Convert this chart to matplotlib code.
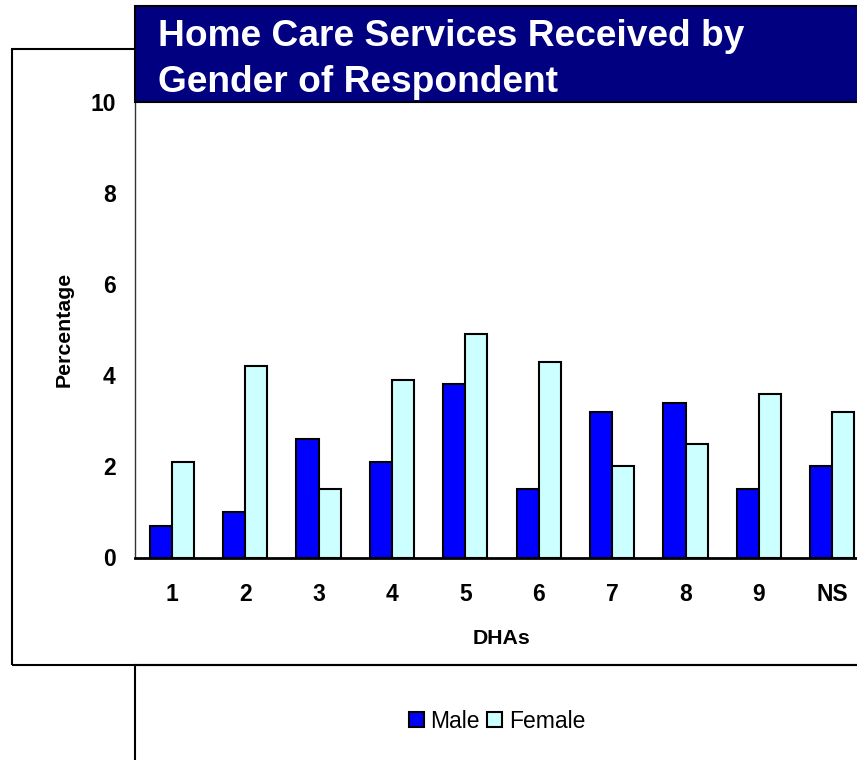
import matplotlib.pyplot as plt
import numpy as np
from matplotlib.patches import Rectangle

# data
dhas = ['1', '2', '3', '4', '5', '6', '7', '8', '9', 'NS']
male = [0.7, 1.0, 2.6, 2.1, 3.8, 1.5, 3.2, 3.4, 1.5, 2.0]
female = [2.1, 4.2, 1.5, 3.9, 4.9, 4.3, 2.0, 2.5, 3.6, 3.2]
y_ticks = [0, 2, 4, 6, 8, 10]

W, H = 857, 760
fig = plt.figure(figsize=(W / 100, H / 100), dpi=100)
plt.rcParams['font.family'] = ['Liberation Sans', 'DejaVu Sans']

def fx(px):
    return px / W

def fy(py):
    return 1 - py / H

# outer frame of the chart area
fig.patches.append(Rectangle((fx(12), fy(665)), fx(900), fy(49) - fy(665), transform=fig.transFigure,
                             facecolor='none', edgecolor='black', linewidth=1.5, zorder=1))
# legend box below
fig.patches.append(Rectangle((fx(135), fy(800)), fx(900), fy(665) - fy(800), transform=fig.transFigure,
                             facecolor='none', edgecolor='black', linewidth=1.5, zorder=1))
# title banner
fig.patches.append(Rectangle((fx(135), fy(102)), fx(900), fy(6) - fy(102), transform=fig.transFigure,
                             facecolor='#000080', edgecolor='black', linewidth=1.5, zorder=2))

fig.text(fx(158), fy(45.5), 'Home Care Services Received by', color='white', fontsize=26.7,
         fontweight='bold', va='baseline', zorder=3)
fig.text(fx(158), fy(92), 'Gender of Respondent', color='white', fontsize=26.7,
         fontweight='bold', va='baseline', zorder=3)

ax = fig.add_axes([fx(135), fy(557.5), fx(869 - 135), fy(102) - fy(557.5)])
ax.patch.set_alpha(0)

x = np.arange(len(dhas))
w = 0.3
ax.bar(x - w / 2, male, w, color='#0000FF', edgecolor='black', linewidth=1.5, label='Male')
ax.bar(x + w / 2, female, w, color='#CCFFFF', edgecolor='black', linewidth=1.5, label='Female')

ax.set_xlim(-0.5, len(dhas) - 0.5)
ax.set_ylim(0, 10)
ax.set_yticks(y_ticks)
ax.set_xticks(x)
ax.set_xticklabels(dhas)
ax.tick_params(length=0, labelsize=16.5)
ax.tick_params(axis='y', pad=14)
ax.tick_params(axis='x', pad=18.5)
for lab in ax.get_xticklabels() + ax.get_yticklabels():
    lab.set_fontweight('bold')

ax.spines['top'].set_visible(False)
ax.spines['right'].set_visible(False)
ax.spines['left'].set_color('#333333')
ax.spines['left'].set_linewidth(1)
ax.spines['bottom'].set_linewidth(2)

ax.set_xlabel('DHAs', fontsize=15.3, fontweight='bold')
ax.set_ylabel('Percentage', fontsize=15.3, fontweight='bold')
ax.xaxis.set_label_coords((502 - 135) / (869 - 135), -(629 - 557.5) / (557.5 - 102))
ax.yaxis.set_label_coords((74 - 135) / (869 - 135), 0.5)

fig.legend(loc='center', bbox_to_anchor=(fx(497), fy(721)), ncol=2, frameon=False,
           prop={'size': 16.5}, handlelength=0.65, handleheight=0.65,
           handletextpad=0.3, columnspacing=0.3)

fig.savefig('out.png', dpi=100)
